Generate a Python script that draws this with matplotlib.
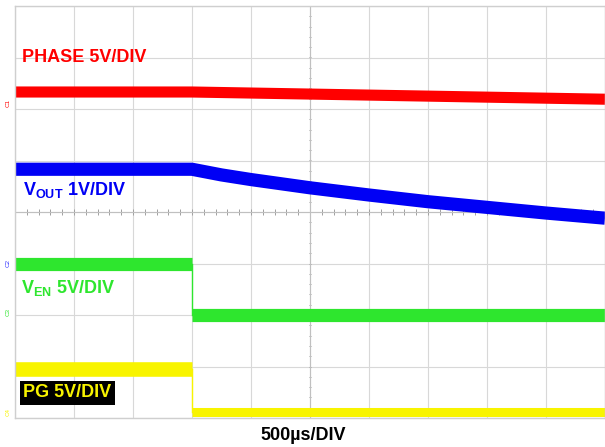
import numpy as np
import matplotlib
matplotlib.use("Agg")
import matplotlib.pyplot as plt

plt.rcParams['font.family'] = ['Liberation Sans', 'DejaVu Sans']
plt.rcParams['mathtext.fontset'] = 'custom'
plt.rcParams['mathtext.rm'] = 'Liberation Sans:bold'
plt.rcParams['mathtext.bf'] = 'Liberation Sans:bold'

# time axis in microseconds (500us/div, 10 divisions), traces in screen divisions (0 = bottom, 8 = top)
t_phase = [0, 1500, 3000, 5000]
phase_div = [6.33, 6.33, 6.27, 6.19]

t_vout = [0, 1500, 1750, 2000, 2250, 2500, 3000, 3500, 4000, 4500, 5000]
vout_div = [4.83, 4.83, 4.72, 4.63, 4.55, 4.47, 4.33, 4.20, 4.09, 3.98, 3.88]

t_step = 1500  # enable pulled low here
ven_high, ven_low = 2.99, 2.00
pg_high, pg_low = 0.95, 0.11

fig = plt.figure(figsize=(6.05, 4.47), dpi=100)
ax = fig.add_axes([15 / 605, 29 / 447, 590 / 605, 412 / 447])
ax.set_xlim(0, 5000)
ax.set_ylim(0, 8)

# scope graticule
ax.set_xticks(np.arange(0, 5001, 500))
ax.set_yticks(np.arange(0, 9, 1))
ax.tick_params(length=0, labelbottom=False, labelleft=False)
ax.grid(True, color='#d8d8d8', lw=0.8)
for s in ax.spines.values():
    s.set_color('#cfcfcf')
    s.set_linewidth(1.0)
# centre crosshair ticks
ax.vlines(np.arange(100, 5000, 100), 4 - 0.05, 4 + 0.05, color='#a0a0a0', lw=0.7)
ax.hlines(np.arange(0.2, 8, 0.2), 2500 - 12, 2500 + 12, color='#a0a0a0', lw=0.7)
ax.axhline(4, color='#c0c0c0', lw=0.8)
ax.axvline(2500, color='#c0c0c0', lw=0.8)

red, blue, green, yellow = '#ff0000', '#0000f5', '#2ee62e', '#f8f400'

ax.plot(t_phase, phase_div, color=red, lw=8, solid_capstyle='butt')
ax.plot(t_vout, vout_div, color=blue, lw=9.5, solid_capstyle='butt', solid_joinstyle='round')

# enable: high, then low after the step
ax.plot([0, t_step], [ven_high, ven_high], color=green, lw=9.5, solid_capstyle='butt')
ax.plot([t_step, 5000], [ven_low, ven_low], color=green, lw=9.5, solid_capstyle='butt')
ax.plot([t_step, t_step], [ven_high, ven_low], color=green, lw=1)

# power good
ax.plot([0, t_step], [pg_high, pg_high], color=yellow, lw=10.5, solid_capstyle='butt')
ax.plot([t_step, 5000], [pg_low, pg_low], color=yellow, lw=6.5, solid_capstyle='butt')
ax.plot([t_step, t_step], [pg_high, pg_low], color=yellow, lw=1)

# labels
kw = dict(fontsize=13, fontweight='bold', va='center', ha='left')
ax.text(0.012, 0.875, 'PHASE 5V/DIV', transform=ax.transAxes, color=red, **kw)
ax.text(0.014, 0.553, r'$\mathbf{V_{OUT}}$ 1V/DIV', transform=ax.transAxes, color=blue, **kw)
ax.text(0.01, 0.316, r'$\mathbf{V_{EN}}$ 5V/DIV', transform=ax.transAxes, color=green, **kw)
ax.text(0.014, 0.061, 'PG 5V/DIV', transform=ax.transAxes, color=yellow,
        bbox=dict(facecolor='black', edgecolor='none', pad=2.5), **kw)
fig.text(303 / 605, 1 - 435 / 447, u'500\u00b5s/DIV', fontsize=13, fontweight='bold',
         ha='center', va='center', color='black')

# channel markers on the left edge
markers = [('C1', 103, red), ('C2', 263, '#3030ff'), ('C3', 312, green), ('C4', 412, yellow)]
for name, ypx, col in markers:
    fig.text(8 / 605, 1 - ypx / 447, name, fontsize=4.5, rotation=90,
             ha='center', va='center', color=col)

fig.savefig('out.png', dpi=100)
